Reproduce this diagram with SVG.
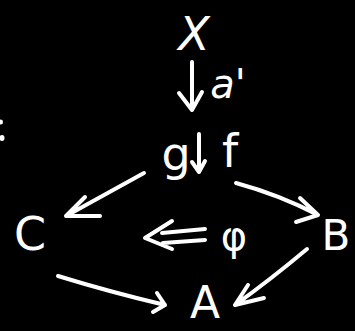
<svg xmlns="http://www.w3.org/2000/svg" width="355" height="331" viewBox="0 0 355 331">
<style>
.t{fill:#fff;font-family:"DejaVu Sans","Liberation Sans",sans-serif;}
.s{fill:none;stroke:#fff;stroke-width:4;stroke-linecap:round;stroke-linejoin:round;}
</style>
<rect width="355" height="331" fill="#000"/>
<g id="edge-fragment"><ellipse cx="1" cy="122" rx="2" ry="2.5" fill="#fff"/><ellipse cx="2" cy="138" rx="2.5" ry="3" fill="#fff"/></g>
<g id="node-X"><text class="t" x="194" y="50" font-size="46" text-anchor="middle" font-style="italic">X</text></g>
<g id="node-gf"><text class="t" x="176" y="170" font-size="46" text-anchor="middle">g</text><text class="t" x="230" y="167" font-size="46" text-anchor="middle">f</text></g>
<g id="node-C"><text class="t" x="30" y="250" font-size="46" text-anchor="middle">C</text></g>
<g id="node-B"><text class="t" x="336" y="250" font-size="42" text-anchor="middle">B</text></g>
<g id="node-A"><text class="t" x="205" y="318" font-size="44" text-anchor="middle">A</text></g>
<g id="connectors">
<path class="s" d="M192 62 L192 110 M179 93 L192 110 L202 92"/>
<text class="t" x="228" y="98" font-size="40" text-anchor="middle" font-style="italic">a'</text>
<path class="s" d="M199 134 L199 172 M192 162 L199 172 L205 161" stroke-width="3.5"/>
<path class="s" d="M144 173 L66 216 M100 216 L66 216 L85 197"/>
<path class="s" d="M236 183 Q280 195 318 215 M300 198 L318 215 L296 222"/>
<path class="s" d="M307 249 Q270 280 235 305 M248 285 L235 305 L264 298"/>
<path class="s" d="M58 276 Q110 292 165 305 M157 293 L165 305 L153 312"/>
<path class="s" d="M172 221 L145 238 L172 249 M162 233 L205 229 M163 243 L205 240" stroke-width="3.5"/>
<text class="t" x="234" y="250" font-size="40" text-anchor="middle">φ</text>
</g>
</svg>
